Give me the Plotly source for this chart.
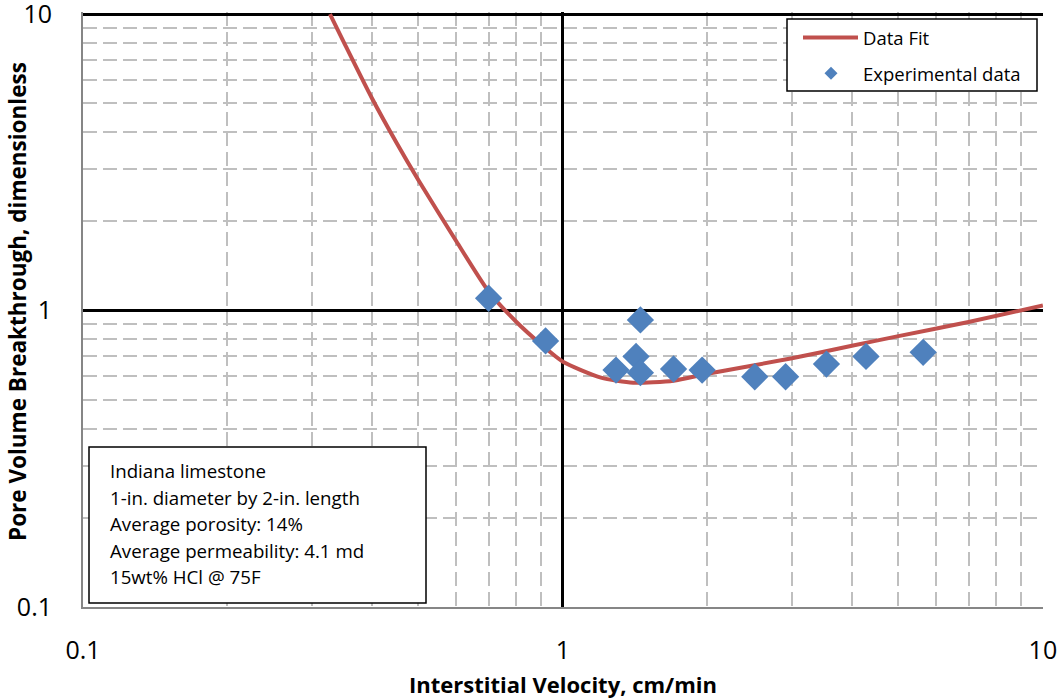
import plotly.graph_objects as go

# Experimental data
exp_v = [0.70, 0.92, 1.29, 1.45, 1.42, 1.45, 1.70, 1.95, 2.51, 2.91, 3.54, 4.28, 5.63]
exp_pv = [1.10, 0.79, 0.63, 0.93, 0.70, 0.617, 0.635, 0.63, 0.598, 0.598, 0.66, 0.70, 0.723]

# Data fit curve
fit_v = [0.327, 0.35, 0.4, 0.45, 0.5, 0.6, 0.7, 0.8, 0.9, 1.0, 1.2, 1.4, 1.7, 2.0, 3.0, 4.0, 5.0, 7.0, 10.0]
fit_pv = [10.0, 8.0, 5.2, 3.68, 2.75, 1.71, 1.16, 0.915, 0.77, 0.672, 0.594, 0.571, 0.580, 0.612, 0.690, 0.761, 0.820, 0.915, 1.04]

major_ticks = [0.1, 1, 10]
major_labels = ["0.1", "1", "10"]

info_lines = ["Indiana limestone", "1-in. diameter by 2-in. length", "Average porosity: 14%",
              "Average permeability: 4.1 md", "15wt% HCl @ 75F"]

RED = "#C0504D"
BLUE = "#4F81BD"
FONT = "Open Sans"

fig = go.Figure()
fig.add_trace(go.Scatter(x=fit_v, y=fit_pv, mode="lines", name="Data Fit",
                         line=dict(color=RED, width=4, shape="spline", smoothing=0.6),
                         showlegend=False))
fig.add_trace(go.Scatter(x=exp_v, y=exp_pv, mode="markers", name="Experimental data",
                         marker=dict(symbol="diamond", size=21, color=BLUE), showlegend=False))

axis_common = dict(
    type="log", tickvals=major_ticks, ticktext=major_labels,
    showgrid=True, gridcolor="black", gridwidth=2.5,
    showline=True, linecolor="#868686", linewidth=2,
    ticks="", automargin=False, ticklabeloverflow="allow",
    tickfont=dict(family=FONT, size=25, color="black"),
    minor=dict(dtick="D1", showgrid=True, gridcolor="#BFBFBF", gridwidth=1.5,
               griddash="14px,6px", ticks=""),
    zeroline=False,
)
fig.update_xaxes(range=[-1, 1.0002], ticklabelstandoff=20, **axis_common)
fig.update_yaxes(range=[-1, 1.007], ticklabelstandoff=24, **axis_common)

W, H = 1058, 698
L, R, T, B = 83, 15, 12, 91
pw, ph = W - L - R, H - T - B

def px(xp):
    return (xp - L) / pw

def py(yp):
    return (H - B - yp) / ph

shapes = []
# legend box
shapes.append(dict(type="rect", xref="paper", yref="paper", x0=px(787), x1=px(1037), y0=py(91), y1=py(19),
                   line=dict(color="black", width=1.5), fillcolor="white"))
shapes.append(dict(type="line", xref="paper", yref="paper", x0=px(803), x1=px(858), y0=py(37.5), y1=py(37.5),
                   line=dict(color=RED, width=4)))
cx, cy, hw = 831, 73.3, 6.5
shapes.append(dict(type="path", xref="paper", yref="paper",
                   path=f"M {px(cx-hw)},{py(cy)} L {px(cx)},{py(cy-hw)} L {px(cx+hw)},{py(cy)} L {px(cx)},{py(cy+hw)} Z",
                   fillcolor=BLUE, line=dict(color=BLUE, width=0)))
# info box
shapes.append(dict(type="rect", xref="paper", yref="paper", x0=px(89), x1=px(426), y0=py(603), y1=py(447),
                   line=dict(color="black", width=1.5), fillcolor="white"))

annotations = [
    dict(text="Data Fit", x=px(861), y=py(37.5), xref="paper", yref="paper", xanchor="left", yanchor="middle",
         showarrow=False, font=dict(family=FONT, size=18.5, color="black")),
    dict(text="Experimental data", x=px(861), y=py(73.3), xref="paper", yref="paper", xanchor="left",
         yanchor="middle", showarrow=False, font=dict(family=FONT, size=18.5, color="black")),
    dict(text="<b>Interstitial Velocity, cm/min</b>", x=0.5, y=py(684), xref="paper", yref="paper",
         xanchor="center", yanchor="middle", showarrow=False, font=dict(family=FONT, size=22, color="black")),
    dict(text="<b>Pore Volume Breakthrough, dimensionless</b>", x=px(17), y=py(302), xref="paper", yref="paper",
         xanchor="center", yanchor="middle", textangle=-90, showarrow=False,
         font=dict(family=FONT, size=22.5, color="black")),
]
line_y = [470.7, 497.2, 523.7, 550.2, 576.7]
for txt, yy in zip(info_lines, line_y):
    annotations.append(dict(text=txt, x=px(107.5), y=py(yy), xref="paper", yref="paper", xanchor="left",
                            yanchor="middle", showarrow=False, font=dict(family=FONT, size=18.7, color="black")))

fig.update_layout(
    width=W, height=H, margin=dict(l=L, r=R, t=T, b=B),
    paper_bgcolor="white", plot_bgcolor="white",
    shapes=shapes, annotations=annotations, showlegend=False,
)

fig.write_html("out.html")
